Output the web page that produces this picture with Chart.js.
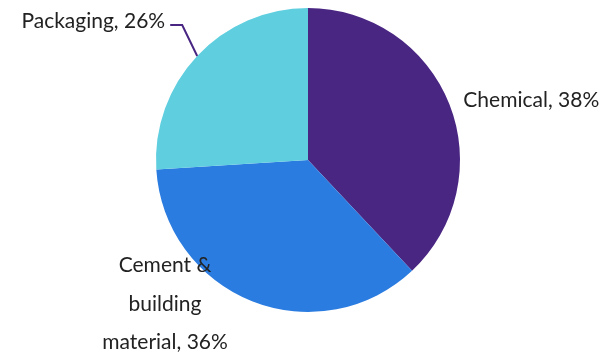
<!DOCTYPE html>
<html>
<head>
<meta charset="utf-8">
<script src="https://cdn.jsdelivr.net/npm/chart.js@4"></script>
<style>
  html, body { margin: 0; padding: 0; background: #fff; }
  #wrap { width: 605px; height: 355px; }
</style>
</head>
<body>
<div id="wrap"><canvas id="pieChart" width="605" height="355"></canvas></div>
<script>
const categories = ["Chemical", "Cement & building material", "Packaging"];
const shares = [38, 36, 26];
const colors = ["#4a2683", "#2b7ce0", "#5fcfdf"];

// how each outside label sits relative to its slice's outer mid point
const labelLayout = [
  { lines: ["Chemical, 38%"], dx: 14, dy: 3, align: "left" },
  { lines: ["Cement &", "building", "material, 36%"], dx: -87, dy: -29, align: "center" },
  { lines: ["Packaging, 26%"], leader: [[-15, -31], [-27, -31]], dx: -32, dy: -28, align: "right" }
];

const outsideLabels = {
  id: "outsideLabels",
  afterDraw(chart) {
    const ctx = chart.ctx;
    const arcs = chart.getDatasetMeta(0).data;
    ctx.save();
    ctx.font = "21px Lato";
    ctx.fillStyle = "#222";
    ctx.textBaseline = "alphabetic";
    arcs.forEach((arc, i) => {
      const lay = labelLayout[i];
      const mid = (arc.startAngle + arc.endAngle) / 2;
      const px = arc.x + Math.cos(mid) * arc.outerRadius;
      const py = arc.y + Math.sin(mid) * arc.outerRadius;
      if (lay.leader) {
        ctx.beginPath();
        ctx.strokeStyle = colors[0];
        ctx.lineWidth = 2;
        ctx.moveTo(px, py);
        lay.leader.forEach(p => ctx.lineTo(px + p[0], py + p[1]));
        ctx.stroke();
      }
      ctx.textAlign = lay.align;
      lay.lines.forEach((t, k) => {
        ctx.fillText(t, px + lay.dx, py + lay.dy + k * 38.5);
      });
    });
    ctx.restore();
  }
};

new Chart(document.getElementById("pieChart"), {
  type: "pie",
  data: {
    labels: categories,
    datasets: [{
      data: shares,
      backgroundColor: colors,
      borderWidth: 0
    }]
  },
  options: {
    responsive: false,
    animation: false,
    layout: { padding: { top: 8, bottom: 43, left: 11, right: 0 } },
    plugins: {
      legend: { display: false },
      tooltip: { enabled: false }
    }
  },
  plugins: [outsideLabels]
});
</script>
</body>
</html>
